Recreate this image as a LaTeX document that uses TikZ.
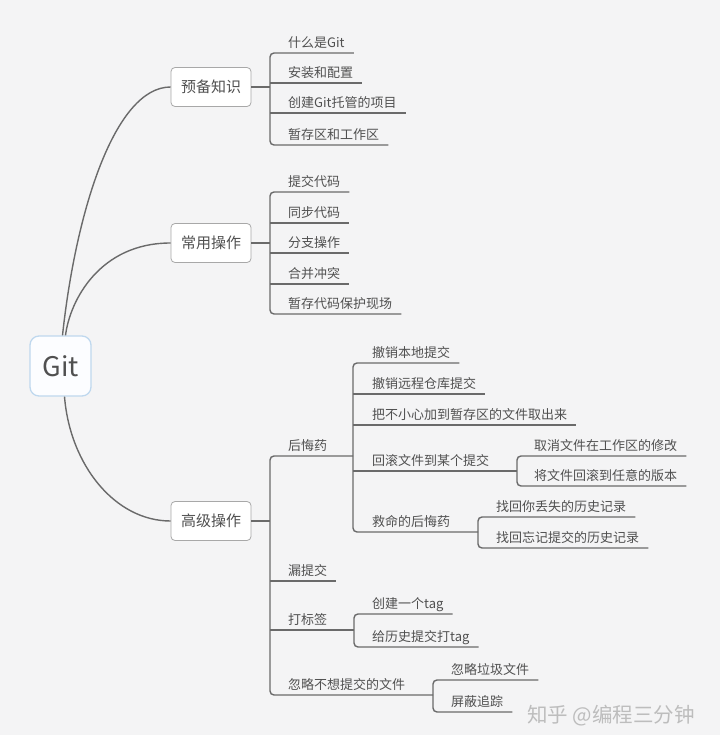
\documentclass[tikz,border=0pt]{standalone}
\usepackage{fontspec}
\setmainfont{Noto Sans CJK SC}
\usetikzlibrary{calc}
\definecolor{bgc}{HTML}{F4F4F5}
\definecolor{lnc}{HTML}{6A6A6A}
\definecolor{txc}{HTML}{505050}
\definecolor{rootb}{HTML}{BFD8EE}
\definecolor{rootf}{HTML}{FCFDFF}
\definecolor{topb}{HTML}{A8A8A8}
\begin{document}
\begin{tikzpicture}[x=1pt,y=-1pt,
  conn/.style={draw=lnc,line width=1.4pt},
  br/.style={conn,rounded corners=4pt},
  leaf/.style={anchor=base west,inner sep=0pt,yshift=1.5pt,text=txc,font=\fontsize{13}{15}\selectfont},
  topic/.style={draw=topb,fill=white,rounded corners=4pt,minimum width=80pt,minimum height=39pt,
    inner sep=0pt,text=txc,font=\fontsize{15}{18}\selectfont,line width=0.8pt},
  rootnode/.style={draw=rootb,fill=rootf,rounded corners=9pt,minimum width=61pt,minimum height=60pt,
    inner sep=0pt,line width=1.3pt,text=txc,font=\fontsize{27}{30}\selectfont}]
\fill[bgc] (0,0) rectangle (720,735);
\useasboundingbox (0,0) rectangle (720,735);

% root and main topics
\node[rootnode] (root) at (60.5,366) {Git};
\node[topic] (pre) at (211,87) {预备知识};
\node[topic] (com) at (211,243) {常用操作};
\node[topic] (adv) at (211,521) {高级操作};

\draw[conn] ([xshift=2pt]root.north) .. controls (76,210) and (115,87) .. (pre.west);
\draw[conn] ([xshift=5pt]root.north) .. controls (70,300) and (100,243) .. (com.west);
\draw[conn] ([xshift=4pt]root.south) .. controls (70,465) and (115,521) .. (adv.west);

% group A
\node[leaf] (a1) at (288,49) {什么是Git};
\node[leaf] (a2) at (288,79) {安装和配置};
\node[leaf] (a3) at (288,109) {创建Git托管的项目};
\node[leaf] (a4) at (288,141) {暂存区和工作区};
\draw[conn] (pre.east) -- (270,87);
\draw[br] ($(a1.base east)+(9,5.5)$) -- (270,53) -- (270,145) -- ($(a4.base east)+(9,5.5)$);
\draw[conn] (270,83) -- ($(a2.base east)+(9,5.5)$);
\draw[conn] (270,113) -- ($(a3.base east)+(9,5.5)$);

% group B
\node[leaf] (b1) at (288,188) {提交代码};
\node[leaf] (b2) at (288,219) {同步代码};
\node[leaf] (b3) at (288,249) {分支操作};
\node[leaf] (b4) at (288,280) {合并冲突};
\node[leaf] (b5) at (288,310) {暂存代码保护现场};
\draw[conn] (com.east) -- (270,243);
\draw[br] ($(b1.base east)+(9,5.5)$) -- (270,192) -- (270,314) -- ($(b5.base east)+(9,5.5)$);
\draw[conn] (270,223) -- ($(b2.base east)+(9,5.5)$);
\draw[conn] (270,253) -- ($(b3.base east)+(9,5.5)$);
\draw[conn] (270,284) -- ($(b4.base east)+(9,5.5)$);

% group C
\node[leaf] (c1) at (288,452) {后悔药};
\node[leaf] (c2) at (288,577) {漏提交};
\node[leaf] (c3) at (288,626) {打标签};
\node[leaf] (c4) at (288,691) {忽略不想提交的文件};
\draw[conn] (adv.east) -- (270,521);
\draw[br] (353,456) -- (270,456) -- (270,695) -- (433,695);
\draw[conn] (270,581) -- ($(c2.base east)+(9,5.5)$);
\draw[conn] (270,630) -- (354,630);

% 后悔药 children
\node[leaf] (d1) at (372,359) {撤销本地提交};
\node[leaf] (d2) at (372,390) {撤销远程仓库提交};
\node[leaf] (d3) at (372,421) {把不小心加到暂存区的文件取出来};
\node[leaf] (d4) at (372,467) {回滚文件到某个提交};
\node[leaf] (d5) at (372,528) {救命的后悔药};
\draw[br] ($(d1.base east)+(9,5.5)$) -- (353,363) -- (353,532) -- (478,532);
\draw[conn] (353,394) -- ($(d2.base east)+(9,5.5)$);
\draw[conn] (353,425) -- ($(d3.base east)+(9,5.5)$);
\draw[conn] (353,471) -- (517,471);

% 回滚 children
\node[leaf] (e1) at (534,452) {取消文件在工作区的修改};
\node[leaf] (e2) at (534,482) {将文件回滚到任意的版本};
\draw[br] ($(e1.base east)+(9,5.5)$) -- (517,456) -- (517,486) -- ($(e2.base east)+(9,5.5)$);

% 救命 children
\node[leaf] (f1) at (496,513) {找回你丢失的历史记录};
\node[leaf] (f2) at (496,544) {找回忘记提交的历史记录};
\draw[br] ($(f1.base east)+(9,5.5)$) -- (478,517) -- (478,548) -- ($(f2.base east)+(9,5.5)$);

% 打标签 children
\node[leaf] (g1) at (372,610) {创建一个tag};
\node[leaf] (g2) at (372,643) {给历史提交打tag};
\draw[br] ($(g1.base east)+(9,5.5)$) -- (354,614) -- (354,647) -- ($(g2.base east)+(9,5.5)$);

% 忽略 children
\node[leaf] (h1) at (451,676) {忽略垃圾文件};
\node[leaf] (h2) at (451,708) {屏蔽追踪};
\draw[br] ($(h1.base east)+(9,5.5)$) -- (433,680) -- (433,712) -- ($(h2.base east)+(9,5.5)$);

% watermark
\node[anchor=west,inner sep=0pt,text=black!26,font=\fontsize{20.5}{24}\selectfont] (wm) at (527,716) {知乎 @编程三分钟};
\end{tikzpicture}
\end{document}
